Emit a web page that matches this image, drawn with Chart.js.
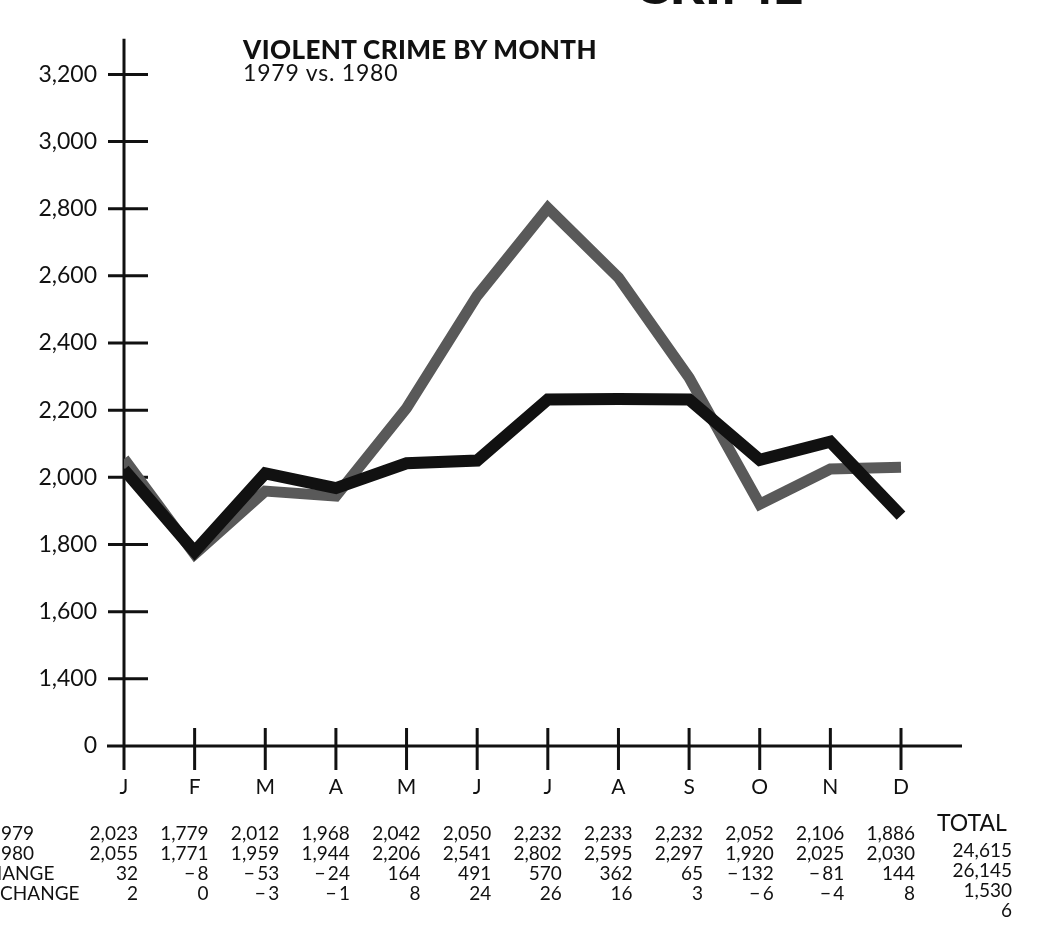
<!DOCTYPE html>
<html>
<head>
<meta charset="utf-8">
<script src="https://cdn.jsdelivr.net/npm/chart.js@4.4.1/dist/chart.umd.min.js"></script>
<style>
html, body { margin: 0; padding: 0; background: #fff; }
#wrap { position: relative; width: 1052px; height: 936px; overflow: hidden; font-family: Lato, "Noto Sans", sans-serif; color: #111; }
#chart { position: absolute; left: 0; top: 0; }
.t { position: absolute; white-space: nowrap; line-height: 1; }
</style>
</head>
<body>
<div id="wrap"><canvas id="chart" width="1052" height="936"></canvas></div>
<script>
const months = ['J', 'F', 'M', 'A', 'M', 'J', 'J', 'A', 'S', 'O', 'N', 'D'];
const crime1979 = [2023, 1779, 2012, 1968, 2042, 2050, 2232, 2233, 2232, 2052, 2106, 1886];
const crime1980 = [2055, 1771, 1959, 1944, 2206, 2541, 2802, 2595, 2297, 1920, 2025, 2030];
const change = [32, -8, -53, -24, 164, 491, 570, 362, 65, -132, -81, 144];
const pctChange = [2, 0, -3, -1, 8, 24, 26, 16, 3, -6, -4, 8];
const totals = [24615, 26145, 1530, 6];
const rowLabels = ['1979', '1980', 'CHANGE', '% CHANGE'];
// broken axis: the lowest tick stands for 0
const yTickValues = [1200, 1400, 1600, 1800, 2000, 2200, 2400, 2600, 2800, 3000, 3200];
const yTickLabels = ['0', '1,400', '1,600', '1,800', '2,000', '2,200', '2,400', '2,600', '2,800', '3,000', '3,200'];

function fmt(v) {
    const s = Math.abs(v).toLocaleString('en-US');
    return v < 0 ? '\u2212\u2009' + s : s;
}

const wrap = document.getElementById('wrap');
function addText(str, x, y, size, align, weight, spacing) {
    const d = document.createElement('div');
    d.className = 't';
    d.textContent = str;
    d.style.left = x + 'px';
    d.style.top = y + 'px';
    d.style.fontSize = size + 'px';
    if (weight) d.style.fontWeight = weight;
    if (spacing) d.style.letterSpacing = spacing + 'px';
    const tx = align === 'right' ? '-100%' : (align === 'center' ? '-50%' : '0');
    d.style.transform = 'translate(' + tx + ', -50%)';
    wrap.appendChild(d);
}

// axes with crossing tick marks
const axesPlugin = {
    id: 'crossAxes',
    beforeDatasetsDraw(chart) {
        const { ctx, chartArea: a, scales: { x, y } } = chart;
        ctx.save();
        ctx.strokeStyle = '#111';
        ctx.lineWidth = 3;
        ctx.beginPath();
        ctx.moveTo(a.left, a.top - 2);
        ctx.lineTo(a.left, a.bottom + 24);
        ctx.moveTo(a.left - 17, a.bottom);
        ctx.lineTo(a.right + 61, a.bottom);
        y.ticks.forEach(t => {
            const py = y.getPixelForValue(t.value);
            ctx.moveTo(a.left - 16, py);
            ctx.lineTo(a.left + 24, py);
        });
        x.ticks.forEach((t, i) => {
            const px = x.getPixelForValue(i);
            ctx.moveTo(px, a.bottom - 18);
            ctx.lineTo(px, a.bottom + 24);
        });
        ctx.stroke();
        ctx.restore();
    }
};

const chart = new Chart(document.getElementById('chart'), {
    type: 'line',
    data: {
        labels: months,
        datasets: [
            {
                label: '1979',
                data: crime1979,
                borderColor: '#111',
                borderWidth: 12,
                order: 0
            },
            {
                label: '1980',
                data: crime1980,
                borderColor: '#595959',
                borderWidth: 11,
                order: 1
            }
        ]
    },
    options: {
        responsive: false,
        animation: false,
        events: [],
        layout: { padding: { left: 0, top: 7, right: 151, bottom: 140 } },
        elements: {
            line: { tension: 0, borderJoinStyle: 'miter', borderCapStyle: 'butt' },
            point: { radius: 0 }
        },
        clip: { left: 0, right: 7, top: 20, bottom: 20 },
        plugins: {
            legend: { display: false },
            tooltip: { enabled: false }
        },
        scales: {
            x: {
                offset: false,
                border: { display: false },
                grid: { display: false, drawTicks: false },
                ticks: {
                    autoSkip: false, maxRotation: 0, padding: 29,
                    color: '#111', font: { family: 'Lato', size: 21 }
                },
                afterFit(scale) { scale.height = 50; }
            },
            y: {
                min: 1200,
                max: 3300,
                border: { display: false },
                grid: { display: false, drawTicks: false },
                ticks: {
                    padding: 27, color: '#111', font: { family: 'Lato', size: 23 },
                    callback: (v, i) => yTickLabels[i]
                },
                afterBuildTicks(scale) { scale.ticks = yTickValues.map(v => ({ value: v })); },
                afterFit(scale) { scale.width = 124; }
            }
        }
    },
    plugins: [axesPlugin]
});

// headings (the big one is cut off at the top edge)
addText('CRIME', 634, -16, 54, 'left', 900);
addText('VIOLENT CRIME BY MONTH', 243, 49, 26, 'left', 900, 0.4);
addText('1979 vs. 1980', 243, 72, 23, 'left', 400, 0.8);

// table below the axis
const rowsY = [832, 852, 872, 892];
const rowLabelX = [-10, -10, -25, -20];
const tableRows = [crime1979, crime1980, change, pctChange];
rowLabels.forEach((lab, r) => addText(lab, rowLabelX[r], rowsY[r], 19, 'left'));
tableRows.forEach((row, r) => {
    row.forEach((v, i) => {
        addText(fmt(v), chart.scales.x.getPixelForValue(i) + 14, rowsY[r], 19, 'right');
    });
});
addText('TOTAL', 937, 822, 23, 'left');
totals.forEach((v, r) => addText(fmt(v), 1012, rowsY[r] + 17, 19, 'right'));
</script>
</body>
</html>
